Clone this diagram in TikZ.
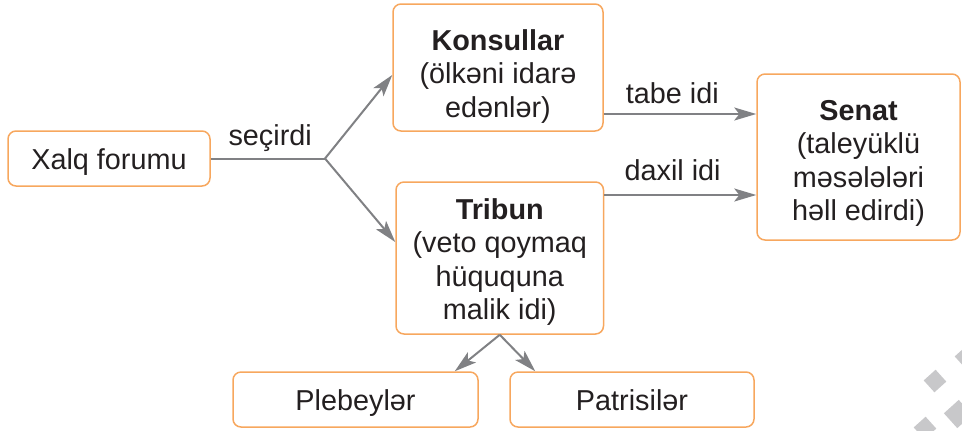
\documentclass[tikz,border=0pt]{standalone}
\usepackage{fontspec}
\setmainfont{Liberation Sans}
\usepackage{xcolor}
\usetikzlibrary{arrows.meta,positioning,calc}
\definecolor{boxorange}{HTML}{F7A75E}
\definecolor{arrgray}{HTML}{808184}
\definecolor{txtdark}{HTML}{231F20}
\definecolor{wmgray}{HTML}{C8C8CA}

\begin{document}
\begin{tikzpicture}
[x=0.5pt,y=-0.5pt,
box/.style={draw=boxorange,line width=0.75pt,rounded corners=4pt,inner sep=0pt,
  align=center,text=txtdark,font=\fontsize{14.4}{16.75}\selectfont},
onebox/.style={box,text height=10.5pt,text depth=0pt},
arr/.style={draw=arrgray,line width=1pt,-{Stealth[length=11pt,width=6.5pt,inset=2.5pt]}},
lbl/.style={text=txtdark,font=\fontsize{14.4}{16.75}\selectfont,inner sep=0pt,anchor=base}]
\useasboundingbox (0,0) rectangle (962,430);

\begin{scope}
\clip (0,0) rectangle (962,430);
\fill[wmgray,rotate around={42:(935,381)}] (927,373) rectangle (943,389);
\fill[wmgray,rotate around={42:(958,414)}] (948,404) rectangle (968,424);
\fill[wmgray,rotate around={42:(925,428)}] (917,420) rectangle (933,436);
\fill[wmgray,rotate around={42:(966,357)}] (958,349) rectangle (974,365);
\end{scope}

\node (xf) at (109,158.5)[onebox,minimum width=101pt,minimum height=27.5pt] {Xalq forumu};
\node (ko) at (498,67.5)[box,minimum width=105pt,minimum height=63.5pt]
  {\rule{0pt}{20pt}\textbf{Konsullar}\\(ölkəni idarə\\edənlər)\rule[-4pt]{0pt}{4pt}};
\node (tr) at (499.75,258)[box,minimum width=103.75pt,minimum height=76pt]
  {\rule{0pt}{15.25pt}\textbf{Tribun}\\(veto qoymaq\\hüququna\\malik idi)\rule[-4pt]{0pt}{4pt}};
\node (se) at (858.5,157)[box,minimum width=101.5pt,minimum height=83pt]
  {\rule{0pt}{17.25pt}\textbf{Senat}\\(taleyüklü\\məsələləri\\həll edirdi)\rule[-4pt]{0pt}{4pt}};
\node (pl) at (355.5,399.5)[onebox,minimum width=122.5pt,minimum height=27.5pt] {Plebeylər};
\node (pa) at (632,399.5)[onebox,minimum width=122pt,minimum height=27.5pt] {Patrisilər};
\coordinate (fk) at (325,158.5);

\draw[draw=arrgray,line width=1pt] (xf) -- (fk) node[lbl,pos=0.52,yshift=6.75pt] {seçirdi};
\draw[arr] (fk) -- ([yshift=-3.75pt]ko.west);
\draw[arr] (fk) -- ([yshift=8pt]tr.west);

\draw[arr] ([yshift=-23.25pt]ko.east) -- ([yshift=21.5pt]se.west) node[lbl,pos=0.45,yshift=5.5pt] {tabe idi};
\draw[arr] ([yshift=31.5pt]tr.east) -- ([yshift=-19pt]se.west) node[lbl,pos=0.45,yshift=7.5pt] {daxil idi};

\draw[arr] (tr.south) -- ([xshift=-12pt]pl.north east);
\draw[arr] (tr.south) -- ([xshift=13pt]pa.north west);
\end{tikzpicture}
\end{document}
